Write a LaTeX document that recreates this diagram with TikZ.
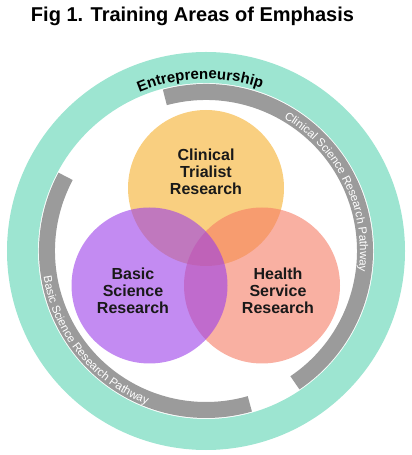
\documentclass[tikz,border=0pt]{standalone}
\usepackage{fontspec}
\setmainfont{Liberation Sans}
\setsansfont{Liberation Sans}
\usepackage{xcolor}
\usetikzlibrary{decorations.text}

\definecolor{ringteal}{HTML}{9DE5D1}
\definecolor{pathgray}{HTML}{9B9B9B}
\definecolor{clinicalorange}{HTML}{F5AF2B}
\definecolor{basicpurple}{HTML}{9B3EE9}
\definecolor{healthpink}{HTML}{F57B64}
\newcommand{\ringfont}{\sffamily\bfseries\fontsize{15}{15}\selectfont}
\newcommand{\arcfont}{\sffamily\fontsize{11.5}{11.5}\selectfont}

\begin{document}
\begin{tikzpicture}[x=1pt,y=1pt,
  venn/.style={circle, minimum size=156, inner sep=0pt, fill opacity=0.6},
  vennlabel/.style={align=center, text=black!90, font=\sffamily\bfseries\fontsize{16}{17}\selectfont},
  pathway/.style={pathgray, line width=16}]
\useasboundingbox (0,0) rectangle (412,455);
%\draw[step=20,lightgray,thin] (0,0) grid (412,455);
\coordinate (ctr) at (206,204);

\node[font=\sffamily\bfseries\fontsize{20}{20}\selectfont, anchor=base] (title) at (192.5,433) {Fig 1. Training Areas of Emphasis};

% outer ring
\draw[ringteal, line width=31] (ctr) circle[radius=183.5];
\path[decorate, decoration={text along path, text={|\ringfont|Entrepreneurship}, text align=center}]
  (ctr) ++(132:172) arc[start angle=132, end angle=52, radius=172];

% pathways
\draw[pathway] (ctr) ++(105:159) arc[start angle=105, end angle=-56, radius=159];
\draw[pathway] (ctr) ++(152:159) arc[start angle=152, end angle=286, radius=159];
\path[decorate, decoration={text along path, text={|\arcfont|Clinical Science Research Pathway}, text align=center, text color=white}]
  (ctr) ++(80:154) arc[start angle=80, end angle=-28, radius=154];
\path[decorate, decoration={text along path, text={|\arcfont|Basic Science Research Pathway}, text align=center, text color=white}]
  (ctr) ++(165:164.5) arc[start angle=165, end angle=273, radius=164.5];

% venn
\node[venn, fill=clinicalorange] (clinical) at (206,267) {};
\node[venn, fill=healthpink] (health) at (262,169.5) {};
\node[venn, fill=basicpurple] (basic) at (149.5,169.5) {};

\node[vennlabel] (clinicallabel) at (206,283) {Clinical\\Trialist\\Research};
\node[vennlabel] (basiclabel) at (133,164) {Basic\\Science\\Research};
\node[vennlabel] (healthlabel) at (278,164) {Health\\Service\\Research};

\end{tikzpicture}
\end{document}
